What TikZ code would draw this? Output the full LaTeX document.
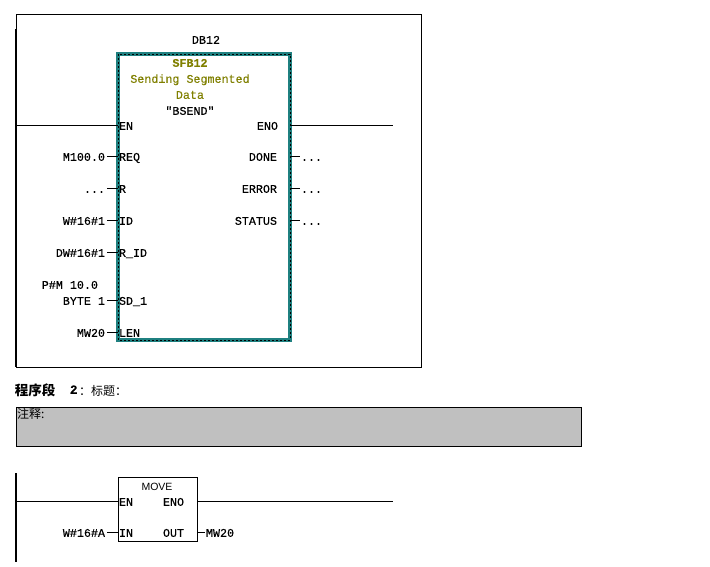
\documentclass[tikz,border=0pt]{standalone}
\usepackage{fontspec}
\setmainfont{Liberation Mono}[FakeBold=0.3]
\newfontfamily\cjk{Noto Sans CJK SC}
\newfontfamily\lsans{Liberation Sans}
\definecolor{teal1}{HTML}{1F8080}
\definecolor{olive1}{HTML}{808000}
\definecolor{grey1}{HTML}{C0C0C0}
\begin{document}
\begin{tikzpicture}[x=1pt,y=-1pt,
  every node/.style={inner sep=0pt,outer sep=0pt,font=\fontsize{11.7}{12}\selectfont,text height=7.6pt,text depth=0pt},
  wire/.style={line width=0.9pt},
  rail/.style={line width=1.8pt},
  pinl/.style={anchor=west},
  pinr/.style={anchor=east},
  oper/.style={anchor=east},
  olab/.style={anchor=west}]
\useasboundingbox[fill=white] (0,0) rectangle (710,567);

% ---------- network 1 frame ----------
\draw[line width=0.8pt] (16,14) rectangle (421,367);
\coordinate (r1top) at (16,29);
\coordinate (r1bot) at (16,367);
\draw[rail] (r1top) -- (r1bot);

% SFB box
\coordinate (sfbNW) at (118,54);
\coordinate (sfbSE) at (290,340);
\draw[teal1,line width=3.2pt] (sfbNW) rectangle (sfbSE);
\draw[black,line width=0.5pt,dash pattern=on 2pt off 2pt] (sfbNW) rectangle (sfbSE);

\node (db) at (206,40) {DB12};
\node[text=olive1,font=\fontsize{11.7}{12}\selectfont\bfseries] (sfbname) at (190,63) {SFB12};
\node[text=olive1] (sfbdesc1) at (190,79) {Sending Segmented};
\node[text=olive1] (sfbdesc2) at (190,95) {Data};
\node (sfbsym) at (190,111) {″BSEND″};

% pins
\node[pinl] (en)   at (119,126) {EN};
\node[pinl] (req)  at (119,157) {REQ};
\node[pinl] (r)    at (119,189) {R};
\node[pinl] (id)   at (119,221) {ID};
\node[pinl] (rid)  at (119,253) {R\_ID};
\node[pinl] (sd)   at (119,301) {SD\_1};
\node[pinl] (len)  at (119,333) {LEN};
\node[pinr] (eno)    at (278,126) {ENO};
\node[pinr] (done)   at (277,157) {DONE};
\node[pinr] (error)  at (277,189) {ERROR};
\node[pinr] (status) at (277,221) {STATUS};

% operands
\node[oper] (oreq) at (105,157) {M100.0};
\node[oper] (or)   at (105,189) {...};
\node[oper] (oid)  at (105,221) {W\#16\#1};
\node[oper] (orid) at (105,253) {DW\#16\#1};
\node[oper] (osd1) at (98,285) {P\#M 10.0};
\node[oper] (osd)  at (105,301) {BYTE 1};
\node[oper] (olen) at (105,333) {MW20};
\node[olab] (odone)   at (301,157) {...};
\node[olab] (oerror)  at (301,189) {...};
\node[olab] (ostatus) at (301,221) {...};

% wires
\coordinate (enL) at (16,125);
\coordinate (enoR) at (393,125);
\draw[wire] (enL) -- (118,125);
\draw[wire] (290,125) -- (enoR);
\foreach \o/\y in {oreq/156.5,or/188.5,oid/220.5,orid/252.5,osd/300.5,olen/332.5}
  \draw[wire] (107,\y) -- (118,\y);
\foreach \o/\y in {odone/156.5,oerror/188.5,ostatus/220.5}
  \draw[wire] (291,\y) -- (300,\y);

% ---------- network 2 header ----------
\node[anchor=west,font=\cjk\fontsize{13.5}{14}\selectfont\bfseries,text height=11pt] (t1) at (15,390) {程序段};
\node[anchor=west,font=\fontsize{12.5}{13}\selectfont\bfseries] (t2) at (70,390) {2};
\node[anchor=west,font=\cjk\fontsize{12}{13}\selectfont,text height=10pt] (t3) at (79,390) {：标题：};
\draw[fill=grey1,line width=0.8pt] (16,407) rectangle (581,446);
\node[anchor=north west,font=\cjk\fontsize{12}{13}\selectfont,text height=10pt] (cmt) at (17,408) {注释:};

% ---------- network 2 ----------
\coordinate (r2top) at (16,473);
\coordinate (r2bot) at (16,562);
\draw[rail] (r2top) -- (r2bot);
\draw[line width=0.9pt] (118,477) rectangle (197,541);
\node[font=\lsans\fontsize{10.5}{11}\selectfont] (mv) at (157,487) {MOVE};
\node[pinl] (men)  at (119,502) {EN};
\node[pinl] (meno) at (163,502) {ENO};
\node[pinl] (min)  at (119,533) {IN};
\node[pinl] (mout) at (163,533) {OUT};
\node[oper] (omin) at (105,533) {W\#16\#A};
\node[olab] (omout) at (206,533) {MW20};
\coordinate (menL) at (16,501);
\coordinate (menoR) at (393,501);
\draw[wire] (menL) -- (118,501);
\draw[wire] (197,501) -- (menoR);
\draw[wire] (107,532.5) -- (118,532.5);
\draw[wire] (197,532.5) -- (205,532.5);
\end{tikzpicture}
\end{document}
